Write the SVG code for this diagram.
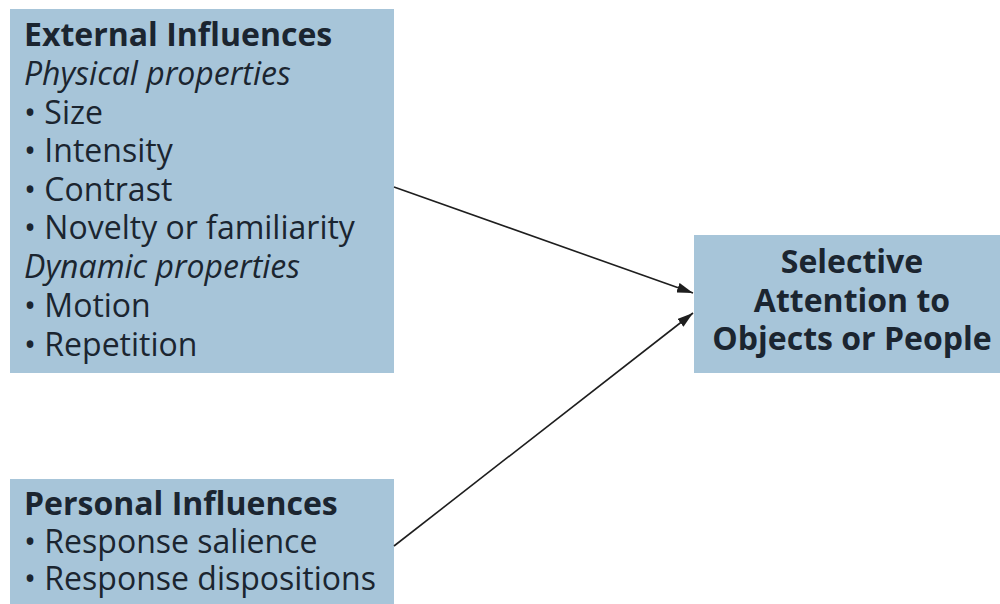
<svg xmlns="http://www.w3.org/2000/svg" width="1000" height="604" viewBox="0 0 1000 604">
<style>
.box{fill:#a7c5d9}
text{font-family:"Open Sans","Noto Sans","Liberation Sans",sans-serif;fill:#1b2530;font-size:32px}
.b{font-weight:700}
.i{font-style:italic}
.c{text-anchor:middle}
.conn{stroke:#1e1e1e;stroke-width:1.6;fill:none}
</style>
<defs>
<marker id="ah" viewBox="0 0 16 10" refX="16" refY="5" markerWidth="16" markerHeight="10" markerUnits="userSpaceOnUse" orient="auto">
<path d="M0,0 L16,5 L0,10 Z" fill="#1e1e1e"/>
</marker>
</defs>
<rect width="1000" height="604" fill="#ffffff"/>
<g id="external">
<rect class="box" x="10" y="9" width="384" height="364"/>
<text x="24" y="46" class="b">External Influences</text>
<text x="24" y="85" class="i">Physical properties</text>
<text x="24" y="124">• Size</text>
<text x="24" y="162">• Intensity</text>
<text x="24" y="201">• Contrast</text>
<text x="24" y="239">• Novelty or familiarity</text>
<text x="24" y="278" class="i">Dynamic properties</text>
<text x="24" y="317">• Motion</text>
<text x="24" y="356">• Repetition</text>
</g>
<g id="personal">
<rect class="box" x="10" y="479" width="384" height="125"/>
<text x="24" y="515" class="b">Personal Influences</text>
<text x="24" y="553">• Response salience</text>
<text x="24" y="590">• Response dispositions</text>
</g>
<g id="selective">
<rect class="box" x="694" y="235" width="306" height="138"/>
<text x="852" y="273" class="b c">Selective</text>
<text x="852" y="312" class="b c">Attention to</text>
<text x="852" y="350" class="b c">Objects or People</text>
</g>
<g id="connectors">
<line class="conn" x1="394" y1="187" x2="693" y2="293" marker-end="url(#ah)"/>
<line class="conn" x1="394" y1="546" x2="693" y2="313" marker-end="url(#ah)"/>
</g>
</svg>
